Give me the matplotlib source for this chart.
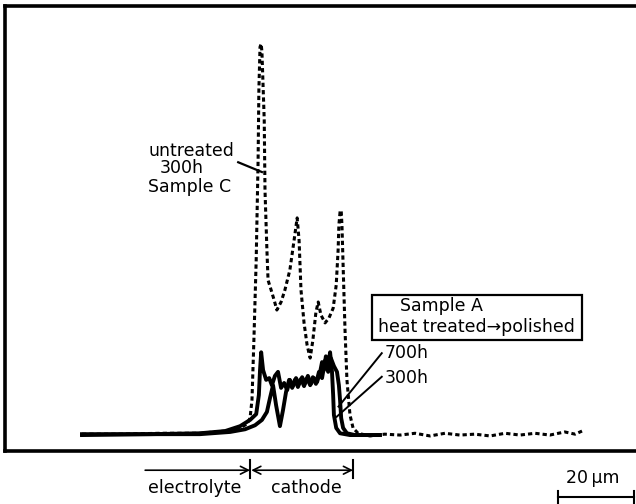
import matplotlib
matplotlib.use("Agg")
import matplotlib.pyplot as plt
from matplotlib.patches import Rectangle

# distance (um, 0 = electrolyte/cathode interface) and line-scan intensity (a.u.)
x_c300 = [-43.9, -33.9, -23.5, -13.1, -6.5, -2.6, -0.8, 0.0, 0.5, 1.0, 1.6, 2.1, 2.3, 2.6,
          2.9, 3.1, 3.7, 3.9, 4.4, 4.7, 5.5, 6.3, 7.0, 8.1, 9.1, 10.4, 11.5, 12.3, 12.8,
          13.3, 14.1, 14.9, 15.7, 16.4, 17.2, 17.8, 18.5, 19.6, 20.6, 21.7, 22.5, 23.0,
          23.2, 23.5, 23.8, 24.0, 24.3, 24.8, 25.3, 26.1, 26.9, 28.2, 31.3, 35.2, 39.2,
          43.1, 47.0, 50.9, 54.8, 58.7, 62.7, 66.6, 70.5, 74.4, 78.3, 82.2, 84.9, 86.7]
y_c300 = [3.8, 3.8, 4.0, 4.0, 4.5, 5.2, 6.1, 7.4, 11.5, 24.9, 42.9, 65.4, 81.1, 90.8,
          91.5, 89.7, 74.4, 58.6, 45.2, 38.4, 36.2, 33.9, 31.7, 33.5, 36.2, 40.7, 47.4,
          52.4, 47.4, 36.2, 28.8, 23.8, 20.9, 24.9, 31.2, 33.5, 30.6, 28.8, 29.9, 32.1,
          37.3, 45.2, 50.8, 53.7, 54.1, 50.8, 41.8, 27.2, 16.0, 8.1, 5.2, 4.0, 3.4, 3.8,
          3.6, 4.0, 3.4, 4.0, 3.6, 3.8, 3.4, 4.0, 3.6, 4.0, 3.6, 4.3, 3.8, 4.5]

x_a700 = [-43.9, -26.1, -13.1, -6.5, -2.6, 0.0, 1.6, 2.3, 2.6, 2.9, 3.4, 4.2, 5.0, 5.7,
          6.5, 7.3, 8.1, 8.9, 9.7, 10.4, 11.2, 12.0, 12.8, 13.6, 14.4, 15.1, 15.9, 16.7,
          17.5, 18.3, 18.8, 19.3, 19.8, 20.4, 20.9, 21.4, 21.7, 21.9, 22.5, 23.5, 26.1, 33.9]
y_a700 = [3.8, 3.8, 4.0, 4.5, 5.6, 7.0, 8.3, 12.6, 18.2, 22.2, 18.2, 16.0, 16.4, 14.8,
          16.9, 17.8, 14.2, 15.3, 13.7, 16.0, 14.6, 16.4, 15.1, 16.6, 15.3, 16.9, 15.1,
          16.4, 15.5, 17.8, 20.0, 18.2, 21.3, 19.3, 22.2, 17.8, 12.6, 8.1, 5.2, 4.0, 3.6, 3.6]

x_a300 = [-43.9, -26.1, -13.1, -5.2, -1.3, 1.3, 3.1, 4.4, 5.2, 6.0, 6.8, 7.8, 8.6, 9.4,
          10.2, 11.0, 11.7, 12.5, 13.3, 14.1, 14.9, 15.7, 16.4, 17.2, 18.0, 18.8, 19.6,
          20.4, 21.1, 21.9, 22.7, 23.2, 23.5, 23.8, 24.3, 25.3, 27.4, 33.9]
y_a300 = [3.6, 3.8, 3.8, 4.3, 4.9, 5.8, 7.0, 8.8, 11.9, 14.8, 10.3, 5.6, 9.2, 13.3,
          16.0, 14.2, 16.0, 14.4, 16.2, 14.6, 16.4, 14.8, 16.6, 15.1, 17.8, 16.4, 20.4,
          17.8, 20.9, 19.1, 17.8, 14.8, 11.5, 7.4, 5.2, 4.0, 3.6, 3.6]

cathode_end = 26.9

fig = plt.figure(figsize=(6.36, 5.04), dpi=100)
ax = fig.add_axes([0.0079, 0.105, 0.9921, 0.883])
ax.set_xlim(-64.0, 100.8)
ax.set_ylim(0, 100)
ax.set_xticks([])
ax.set_yticks([])
for s in ["left", "top", "bottom"]:
    ax.spines[s].set_linewidth(2.6)
ax.spines["right"].set_visible(False)

ax.plot(x_c300, y_c300, color="black", lw=2.2, ls=(0, (1.4, 1.0)))
ax.plot(x_a700, y_a700, color="black", lw=2.8)
ax.plot(x_a300, y_a300, color="black", lw=2.8)

fs = 12.5
ax.text(-26.6, 67.4, "untreated", fontsize=fs, va="center", ha="left")
ax.text(-23.5, 63.7, "300h", fontsize=fs, va="center", ha="left")
ax.text(-26.6, 59.4, "Sample C", fontsize=fs, va="center", ha="left")
ax.plot([-3.1, 3.1], [64.9, 62.7], color="black", lw=1.6)

ax.add_patch(Rectangle((31.9, 24.9), 54.8, 10.2, fill=False, lw=1.6, ec="black"))
ax.text(50.1, 32.6, "Sample A", fontsize=fs, va="center", ha="center")
ax.text(59.0, 27.9, "heat treated\u2192polished", fontsize=fs, va="center", ha="center")

ax.text(35.2, 22.1, "700h", fontsize=fs, va="center", ha="left")
ax.text(35.2, 16.5, "300h", fontsize=fs, va="center", ha="left")
ax.plot([34.4, 23.1], [22.0, 10.0], color="black", lw=1.4)
ax.plot([34.4, 22.6], [16.7, 7.7], color="black", lw=1.4)

# layer markers below the frame
ax.annotate("", xy=(0, -4.3), xytext=(-27.4, -4.3), annotation_clip=False,
            arrowprops=dict(arrowstyle="->", lw=1.2, color="black", mutation_scale=14,
                            shrinkA=0, shrinkB=0))
ax.annotate("", xy=(cathode_end, -4.3), xytext=(0.3, -4.3), annotation_clip=False,
            arrowprops=dict(arrowstyle="<->", lw=1.2, color="black", mutation_scale=14,
                            shrinkA=0, shrinkB=0))
for xv in [0, cathode_end]:
    ax.plot([xv, xv], [-2.0, -6.1], color="black", lw=1.5, clip_on=False)
ax.text(-14.4, -8.3, "electrolyte", fontsize=fs, ha="center", va="center")
ax.text(14.6, -8.3, "cathode", fontsize=fs, ha="center", va="center")

ax.text(89.6, -6.1, "20\u2009\u03bcm", fontsize=fs, ha="center", va="center")
ax.plot([80.3, 100.3], [-10.3, -10.3], color="black", lw=1.5, clip_on=False)
for xv in [80.3, 100.3]:
    ax.plot([xv, xv], [-9.0, -11.7], color="black", lw=1.5, clip_on=False)

fig.savefig("out.png", dpi=100)
